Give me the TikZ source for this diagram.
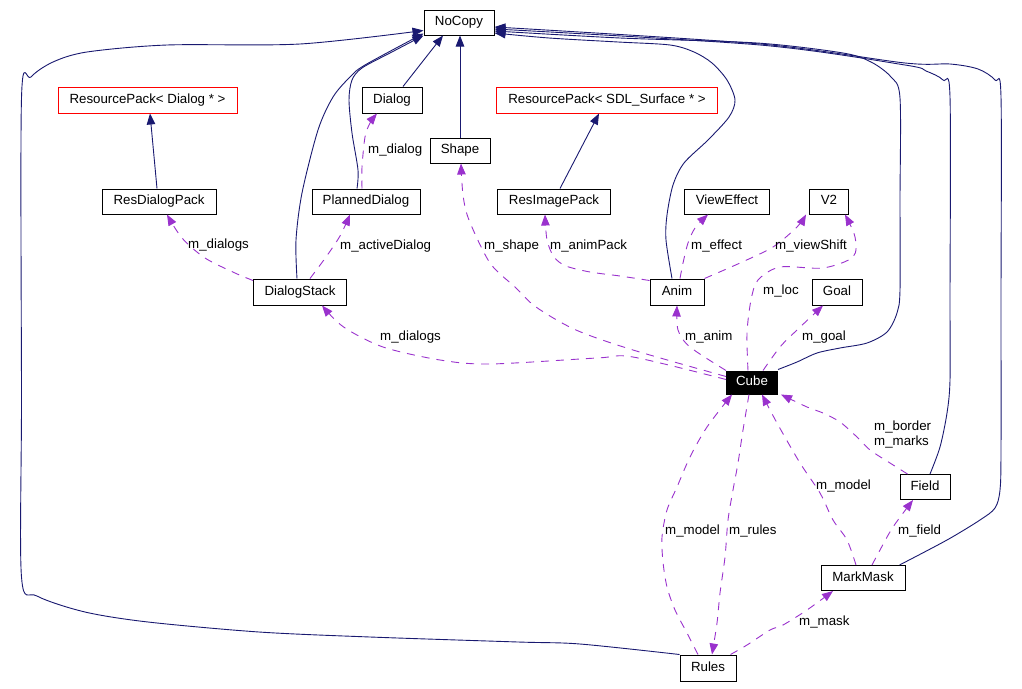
\documentclass[tikz,border=0pt]{standalone}
\usepackage{fontspec}
\setmainfont{Liberation Sans}
\usetikzlibrary{arrows.meta}
\definecolor{navy}{RGB}{25,25,112}
\definecolor{orchid}{RGB}{154,50,205}
\begin{document}
\begin{tikzpicture}[x=1pt,y=-1pt,
  txt/.style={font=\fontsize{13.3}{15}\selectfont, text height=9.5pt, text depth=2.8pt},
  cls/.style={txt, draw=black, line width=1pt, fill=white, inner sep=0pt},
  redcls/.style={cls, draw=red},
  hilite/.style={cls, fill=black, text=white},
  tip/.style={-{Triangle[length=11pt,width=8.5pt]}},
  inh/.style={draw=navy, line width=0.9pt, tip},
  use/.style={draw=orchid, line width=0.9pt, dash pattern=on 8pt off 7pt, tip},
  lbl/.style={txt, anchor=west, inner sep=0pt},
  sm/.style={smooth, tension=0.5}]
\useasboundingbox (0,0) rectangle (1022,688);

% classes
\node[cls, minimum width=70pt, minimum height=25pt] (NoCopy) at (459,22.5) {NoCopy};
\node[redcls, minimum width=179pt, minimum height=26pt] (RPDialog) at (147.5,100) {ResourcePack< Dialog * >};
\node[cls, minimum width=60pt, minimum height=26pt] (Dialog) at (392,100) {Dialog};
\node[redcls, minimum width=221pt, minimum height=26pt] (RPSDL) at (607,100) {ResourcePack< SDL\_Surface * >};
\node[cls, minimum width=60pt, minimum height=25pt] (Shape) at (460,150.5) {Shape};
\node[cls, minimum width=114pt, minimum height=25pt] (ResDialogPack) at (159,201.5) {ResDialogPack};
\node[cls, minimum width=108pt, minimum height=25pt] (PlannedDialog) at (366,201.5) {PlannedDialog};
\node[cls, minimum width=113pt, minimum height=25pt] (ResImagePack) at (554,201.5) {ResImagePack};
\node[cls, minimum width=85pt, minimum height=25pt] (ViewEffect) at (727,201.5) {ViewEffect};
\node[cls, minimum width=39pt, minimum height=25pt] (V2) at (829,201.5) {V2};
\node[cls, minimum width=93pt, minimum height=26pt] (DialogStack) at (300,292) {DialogStack};
\node[cls, minimum width=54pt, minimum height=26pt] (Anim) at (677,292) {Anim};
\node[cls, minimum width=50pt, minimum height=26pt] (Goal) at (837,292) {Goal};
\node[hilite, minimum width=51pt, minimum height=23pt] (Cube) at (752,382.5) {Cube};
\node[cls, minimum width=50pt, minimum height=25pt] (Field) at (925,487) {Field};
\node[cls, minimum width=84pt, minimum height=25pt] (MarkMask) at (863,578) {MarkMask};
\node[cls, minimum width=56pt, minimum height=26pt] (Rules) at (708,668) {Rules};

% inheritance (solid)
\draw[inh] ([xshift=-2pt]ResDialogPack.north) -- ([xshift=2.5pt]RPDialog.south);
\draw[inh] ([xshift=6pt]ResImagePack.north) -- ([xshift=-8pt]RPSDL.south);
\draw[inh] ([xshift=11pt]Dialog.north) -- ([xshift=-16pt]NoCopy.south);
\draw[inh] (Shape.north) -- (Shape.north |- NoCopy.south);
\draw[inh] plot[sm] coordinates {([xshift=-9pt]PlannedDialog.north) (358,170) (352,133) (349,100) (352,80) (362,68) (390,53) (NoCopy.south west)};
\draw[inh] plot[sm] coordinates {([xshift=-3pt]DialogStack.north) (296,240) (302,193) (318,130) (333,97) (350,77) (365,65) ([yshift=2pt]NoCopy.south west)};
\draw[inh] plot[sm] coordinates {(Rules.north west) (580,644) (518,642) (370,637) (259,632) (148,622) (85,612) (37,596) (21.5,577) (21.5,400) (21.5,98) (31,77) (53,62) (87,52) (167,45) (300,44) ([yshift=5pt]NoCopy.south west)};
\draw[inh] plot[sm] coordinates {([xshift=-5pt]Anim.north) (666,240) (667,215) (673,185) (684,163) (708,140) (729,117) (735,100) (727,80) (712,63) (694,52) (670,45) (618,42) (549,38) ([yshift=-10.5pt]NoCopy.east)};
\draw[inh] plot[sm] coordinates {([yshift=1pt]Cube.north east) (797,362) (817,353) (840,348) (867,343) (887,332) (897,313) (900,290) (900,200) (900,98) (891,77) (871,62) (843,53) (757,43) (620,38) ([yshift=-8.5pt]NoCopy.east)};
\draw[inh] plot[sm] coordinates {([xshift=5pt]Field.north) (940,447) (947,413) (950,380) (950,300) (950,97) (943,80) (926,71) (905,65) (760,45) ([yshift=-6.5pt]NoCopy.east)};
\draw[inh] plot[sm] coordinates {([xshift=-6pt]MarkMask.north east) (947,540) (980,520) (995,508) (1000,490) (1001,450) (1001,300) (1001,97) (995,80) (978,69) (950,64) (905,63) (760,44) ([yshift=-4.5pt]NoCopy.east)};

% usage (dashed)
\draw[use] plot[sm] coordinates {([yshift=-2pt]DialogStack.north west) (235,273) (205,258) (182,238) ([xshift=8pt]ResDialogPack.south)};
\draw[use] plot[sm] coordinates {([xshift=10pt]DialogStack.north) (326,257) (340,236) ([xshift=-16pt]PlannedDialog.south)};
\draw[use] plot[sm] coordinates {([xshift=-4pt]PlannedDialog.north) (362,167) (365,137) (370,123) ([xshift=-15pt]Dialog.south)};
\draw[use] plot[sm] coordinates {([yshift=6pt]Cube.west) (633,350) (576,330) (536,307) (515,287) (490,263) (469,220) (463,195) ([xshift=1pt]Shape.south)};
\draw[use] plot[sm] coordinates {([yshift=-2pt]Anim.north west) (620,276) (590,272) (566,266) (554,257) (547,240) ([xshift=-9pt]ResImagePack.south)};
\draw[use] plot[sm] coordinates {([xshift=3pt]Anim.north) (683,263) (688,243) (695,228) ([xshift=-19pt]ViewEffect.south)};
\draw[use] plot[sm] coordinates {(Anim.north east) (740,263) (773,247) (797,227) ([xshift=-3pt]V2.south west)};
\draw[use] plot[sm] coordinates {([xshift=-4pt]Cube.north) (747,333) (751,300) (758,280) (780,267) (823,268) (853,257) (855,237) ([xshift=16pt]V2.south)};
\draw[use] plot[sm] coordinates {([xshift=11pt]Cube.north) (780,347) (797,330) ([xshift=-14pt]Goal.south)};
\draw[use] plot[sm] coordinates {(Cube.north west) (690,347) (678,330) (Anim.south)};
\draw[use] plot[sm] coordinates {([yshift=3pt]Cube.west) (633,357) (597,358) (490,364) (440,360) (383,347) (343.6,327) ([xshift=22pt]DialogStack.south)};
\draw[use] plot[sm] coordinates {([xshift=-10pt]Rules.north) (687,633) (675,610) (667,587) (663,562) (662,537) (667,510) (677,487) (690,457) (707,427) ([xshift=6pt]Cube.south west)};
\draw[use] plot[sm] coordinates {([xshift=-3pt]Cube.south) (743,430) (738,463) (733,490) (728,520) (725,557) (720,593) (717,623) ([xshift=4pt]Rules.north)};
\draw[use] plot[sm] coordinates {([xshift=-7pt]MarkMask.north) (847,540) (833,520) (820,493) (800,463) (777,423) ([xshift=10pt]Cube.south)};
\draw[use] plot[sm] coordinates {([xshift=8pt]Field.north west) (890,463) (870,450) (857,437) (840,422) (823,413) (807,407) ([xshift=3pt]Cube.south east)};
\draw[use] plot[sm] coordinates {([xshift=9pt]MarkMask.north) (880,550) (893,527) ([xshift=-12pt]Field.south)};
\draw[use] plot[sm] coordinates {([xshift=-6pt]Rules.north east) (747,645) (770,630) (783,625) (807,610) ([xshift=-30pt]MarkMask.south)};

% labels
\node[lbl] (l1) at (188,245) {m\_dialogs};
\node[lbl] (l2) at (340,246) {m\_activeDialog};
\node[lbl] (l3) at (368,150) {m\_dialog};
\node[lbl] (l4) at (484,246) {m\_shape};
\node[lbl] (l5) at (550,246) {m\_animPack};
\node[lbl] (l6) at (691,246) {m\_effect};
\node[lbl] (l7) at (775,246) {m\_viewShift};
\node[lbl] (l8) at (763,291) {m\_loc};
\node[lbl] (l9) at (802,337) {m\_goal};
\node[lbl] (l10) at (685,337) {m\_anim};
\node[lbl] (l11) at (380,337) {m\_dialogs};
\node[lbl] (l12) at (665,531) {m\_model};
\node[lbl] (l13) at (729,531) {m\_rules};
\node[lbl] (l14) at (816,486) {m\_model};
\node[lbl] (l15) at (874,427) {m\_border};
\node[lbl] (l16) at (874,442) {m\_marks};
\node[lbl] (l17) at (898,531) {m\_field};
\node[lbl] (l18) at (799,622) {m\_mask};
\end{tikzpicture}
\end{document}
